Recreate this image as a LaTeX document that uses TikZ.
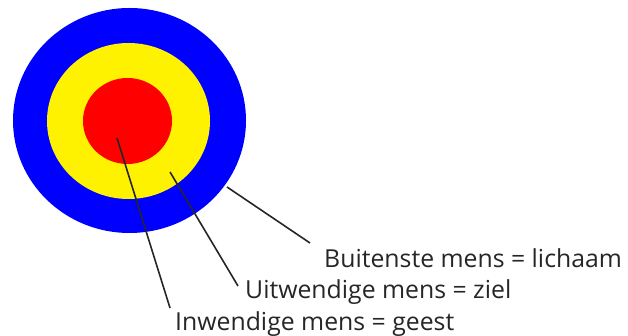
\documentclass[tikz,border=0pt]{standalone}
\usepackage{fontspec}
\setmainfont{Open Sans}
\begin{document}
\begin{tikzpicture}[x=1pt,y=-1pt,
  ring/.style={draw=none},
  lbl/.style={anchor=base west,inner sep=0pt,font=\fontsize{24.8}{28}\selectfont,text=black!85},
  lead/.style={draw=black!85,line width=1.6pt}]
\useasboundingbox (0,0) rectangle (628,336);
\fill[blue!100,ring] (129.5,120.5) ellipse [x radius=116.5,y radius=112.5];
\fill[yellow,ring] (128.5,121) ellipse [x radius=81.5,y radius=78];
\fill[red,ring] (127.5,121) ellipse [x radius=44.5,y radius=43];
\node[lbl] (outer) at (324,267) {Buitenste mens = lichaam};
\node[lbl] (middle) at (245,298) {Uitwendige mens = ziel};
\node[lbl] (inner) at (175,330) {Inwendige mens = geest};
\coordinate (po) at (227,187);
\coordinate (pm) at (170,172);
\coordinate (pi) at (117,138);
\coordinate (eo) at (310,243);
\coordinate (em) at (238,286);
\coordinate (ei) at (170,308);
\draw[lead] (po) -- (eo);
\draw[lead] (pm) -- (em);
\draw[lead] (pi) -- (ei);
\end{tikzpicture}
\end{document}
